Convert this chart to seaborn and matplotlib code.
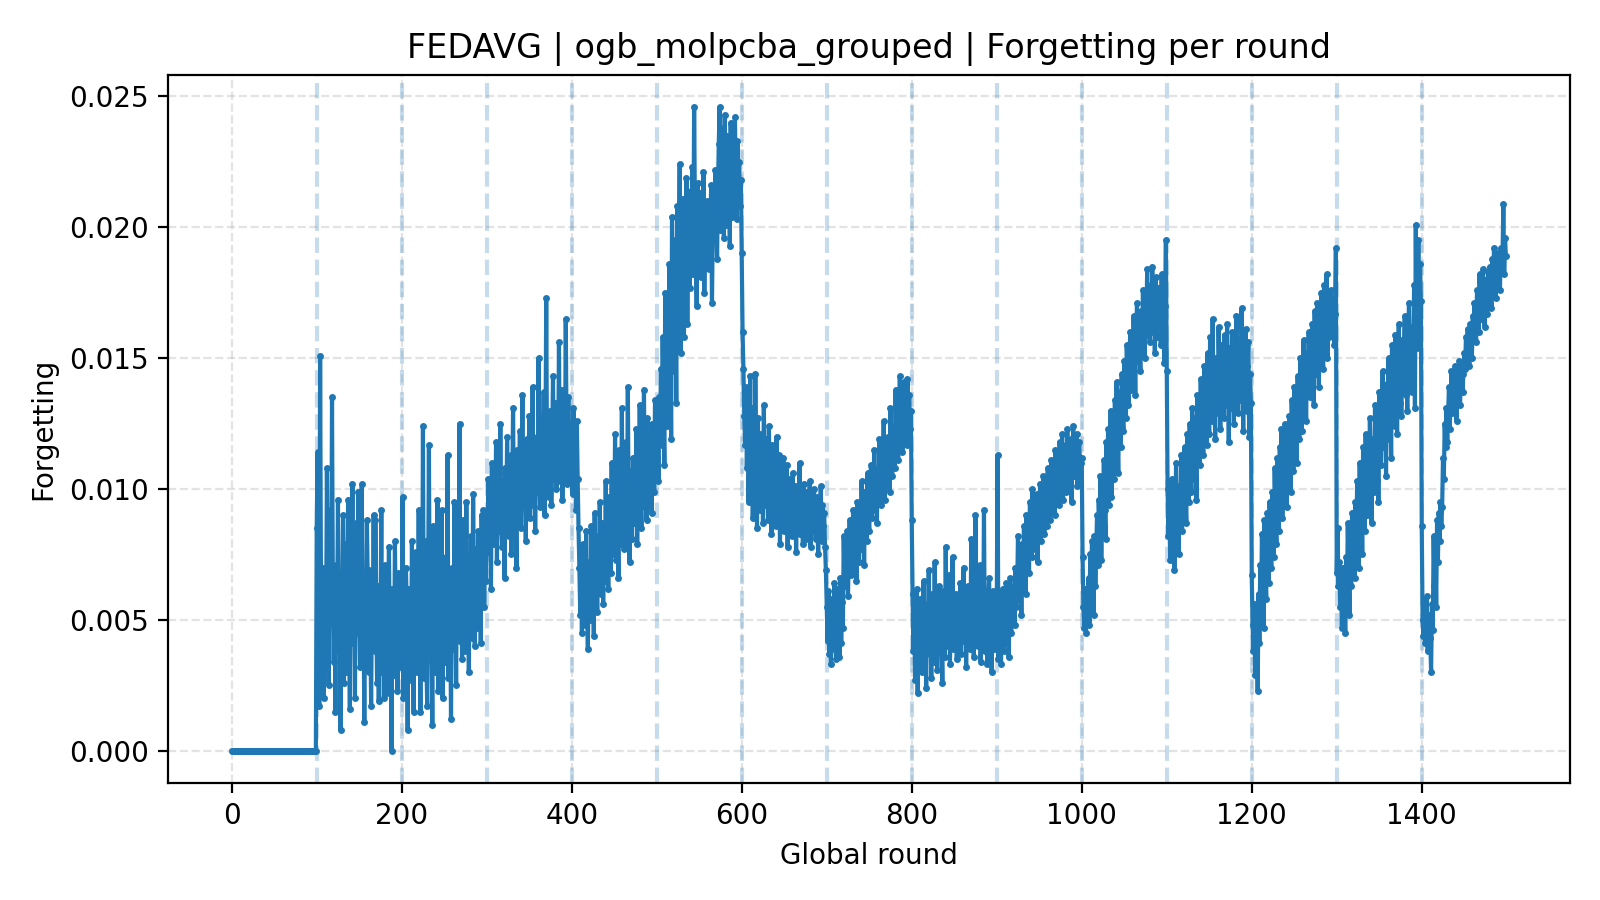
import numpy as np
import pandas as pd
import matplotlib
matplotlib.use("Agg")
import matplotlib.pyplot as plt
import seaborn as sns

# Forgetting values per global round, in units of 1e-4
task0 = [0] * 100
task1 = [85, 114, 52, 17, 151, 64, 38, 70, 20, 55,
         62, 45, 108, 58, 25, 66, 92, 50, 135, 61,
         34, 58, 15, 71, 49, 96, 38, 63, 8, 57,
         54, 90, 26, 65, 30, 79, 67, 96, 52, 16,
         77, 55, 102, 41, 68, 20, 87, 61, 45, 99,
         56, 32, 60, 102, 47, 55, 11, 63, 48, 88,
         66, 30, 69, 52, 17, 59, 43, 90, 38, 88,
         55, 26, 63, 19, 57, 47, 92, 30, 57, 20,
         71, 45, 66, 22, 53, 78, 34, 58, 0, 62,
         48, 29, 80, 50, 60, 23, 68, 45, 59, 32]
task2 = [48, 97, 20, 60, 32, 70, 53, 8, 62, 35,
         58, 27, 80, 51, 15, 63, 37, 76, 30, 55,
         92, 48, 15, 61, 40, 124, 28, 58, 80, 34,
         17, 57, 117, 39, 66, 52, 10, 86, 58, 30,
         78, 50, 96, 23, 62, 55, 37, 92, 20, 66,
         59, 34, 74, 51, 113, 28, 63, 56, 12, 70,
         60, 39, 95, 62, 25, 71, 44, 67, 125, 42,
         64, 35, 88, 59, 69, 38, 95, 58, 66, 30,
         75, 60, 82, 43, 98, 64, 40, 77, 69, 47,
         84, 63, 73, 41, 90, 67, 92, 55, 76, 65]
task3 = [92, 76, 104, 83, 95, 62, 110, 88, 79, 100,
         90, 118, 72, 95, 106, 84, 125, 91, 78, 103,
         97, 66, 108, 87, 120, 94, 82, 101, 113, 75,
         99, 131, 88, 107, 96, 70, 115, 100, 92, 122,
         85, 104, 136, 95, 112, 98, 80, 119, 105, 96,
         128, 89, 110, 101, 139, 94, 116, 84, 107, 120,
         99, 150, 106, 93, 124, 112, 102, 137, 90, 111,
         173, 108, 121, 97, 115, 130, 94, 118, 143, 104,
         113, 133, 100, 125, 109, 156, 103, 120, 138, 96,
         117, 128, 106, 165, 119, 102, 135, 111, 125, 108]
task4 = [123, 98, 131, 107, 115, 92, 126, 104, 85, 70,
         52, 68, 45, 79, 57, 63, 48, 84, 55, 39,
         72, 61, 50, 86, 58, 67, 44, 91, 63, 76,
         53, 82, 69, 95, 60, 74, 87, 56, 78, 65,
         103, 71, 89, 62, 97, 80, 68, 110, 75, 92,
         84, 121, 73, 99, 88, 66, 115, 93, 79, 131,
         86, 104, 77, 96, 118, 83, 139, 91, 72, 107,
         98, 81, 112, 87, 101, 94, 123, 79, 109, 90,
         132, 97, 85, 116, 102, 138, 93, 110, 88, 127,
         104, 96, 119, 108, 91, 125, 113, 99, 134, 117]
task5 = [112, 128, 103, 135, 121, 146, 117, 158, 130, 109,
         175, 142, 124, 163, 137, 186, 150, 119, 204, 161,
         145, 195, 172, 133, 208, 166, 181, 224, 152, 190,
         173, 211, 158, 199, 184, 219, 163, 206, 190, 177,
         214, 197, 223, 182, 246, 205, 193, 170, 217, 201,
         188, 213, 181, 206, 196, 221, 175, 203, 189, 210,
         193, 184, 207, 198, 216, 171, 201, 212, 195, 222,
         205, 188, 214, 232, 246, 199, 238, 210, 224, 196,
         243, 215, 201, 235, 207, 228, 193, 240, 219, 204,
         227, 211, 242, 220, 203, 233, 215, 225, 208, 218]
task6 = [190, 160, 146, 128, 117, 139, 108, 124, 95, 113,
         143, 102, 131, 89, 118, 97, 144, 110, 85, 127,
         104, 92, 121, 99, 115, 87, 132, 106, 94, 119,
         101, 88, 124, 96, 111, 83, 117, 102, 93, 108,
         86, 120, 98, 90, 113, 79, 105, 95, 89, 112,
         84, 100, 92, 109, 78, 97, 87, 104, 91, 82,
         106, 94, 88, 101, 76, 98, 85, 93, 110, 83,
         96, 89, 79, 102, 87, 94, 81, 99, 90, 85,
         103, 78, 95, 88, 84, 100, 92, 81, 97, 86,
         75, 93, 88, 101, 80, 94, 86, 91, 78, 69]
task7 = [55, 42, 61, 37, 50, 33, 58, 45, 39, 64,
         48, 35, 62, 44, 52, 36, 66, 41, 57, 47,
         82, 63, 78, 70, 84, 59, 76, 88, 67, 81,
         74, 92, 69, 86, 79, 65, 95, 83, 72, 90,
         77, 103, 85, 94, 71, 99, 88, 80, 106, 91,
         84, 97, 109, 89, 102, 95, 115, 92, 100, 87,
         108, 98, 119, 104, 94, 111, 101, 126, 96, 107,
         115, 103, 120, 110, 99, 131, 113, 105, 124, 118,
         108, 138, 116, 127, 111, 122, 143, 119, 129, 114,
         125, 141, 120, 134, 117, 142, 128, 136, 123, 130]
task8 = [88, 60, 38, 50, 27, 44, 62, 22, 49, 35,
         58, 41, 30, 53, 65, 39, 47, 24, 56, 43,
         69, 37, 51, 28, 60, 46, 34, 72, 42, 55,
         31, 49, 63, 38, 57, 44, 26, 61, 50, 36,
         78, 45, 53, 40, 67, 33, 58, 47, 74, 39,
         52, 43, 60, 35, 49, 56, 41, 64, 37, 54,
         46, 70, 42, 58, 32, 51, 63, 44, 55, 39,
         81, 48, 60, 36, 53, 90, 45, 67, 40, 57,
         71, 34, 49, 62, 43, 92, 38, 56, 47, 33,
         58, 66, 41, 52, 30, 48, 61, 39, 55, 44]
task9 = [52, 113, 35, 58, 44, 33, 49, 62, 38, 55,
         47, 64, 41, 59, 36, 53, 66, 45, 57, 51,
         63, 48, 70, 55, 61, 82, 58, 67, 74, 52,
         79, 65, 86, 71, 60, 90, 76, 83, 68, 95,
         88, 74, 100, 81, 93, 77, 85, 98, 72, 91,
         87, 102, 80, 94, 89, 105, 83, 97, 92, 86,
         108, 95, 101, 88, 111, 99, 93, 106, 90, 115,
         103, 97, 110, 94, 118, 100, 107, 121, 96, 112,
         104, 117, 99, 123, 108, 114, 102, 119, 95, 111,
         124, 105, 116, 109, 121, 101, 113, 118, 106, 110]
task10 = [112, 74, 55, 47, 62, 45, 58, 50, 66, 48,
          75, 56, 80, 69, 52, 82, 63, 77, 90, 71,
          96, 84, 105, 73, 99, 88, 111, 92, 81, 118,
          101, 123, 94, 108, 130, 97, 115, 126, 104, 134,
          112, 141, 120, 106, 137, 125, 116, 144, 131, 122,
          149, 135, 127, 155, 140, 132, 147, 160, 138, 151,
          143, 166, 152, 136, 158, 171, 149, 162, 154, 145,
          168, 157, 176, 161, 150, 172, 163, 184, 159, 169,
          156, 178, 165, 185, 160, 174, 152, 181, 167, 158,
          177, 164, 171, 155, 182, 166, 173, 148, 170, 195]
task11 = [145, 100, 82, 95, 73, 88, 104, 78, 92, 69,
          86, 110, 81, 97, 75, 101, 89, 113, 84, 106,
          93, 116, 98, 87, 121, 103, 95, 125, 108, 99,
          131, 112, 104, 127, 118, 96, 136, 115, 122, 109,
          142, 119, 128, 113, 147, 124, 135, 117, 152, 130,
          121, 158, 137, 126, 165, 133, 141, 119, 150, 138,
          129, 162, 144, 123, 155, 136, 148, 127, 159, 140,
          132, 163, 146, 118, 154, 139, 131, 160, 143, 125,
          151, 137, 166, 145, 129, 157, 141, 134, 169, 148,
          122, 153, 139, 161, 130, 147, 156, 120, 144, 133]
task12 = [67, 48, 38, 56, 29, 52, 44, 23, 60, 41,
          71, 55, 83, 62, 47, 88, 69, 58, 91, 76,
          64, 95, 81, 70, 99, 86, 74, 108, 90, 79,
          112, 94, 84, 116, 100, 123, 89, 105, 97, 125,
          108, 93, 118, 102, 128, 113, 99, 134, 120, 107,
          139, 116, 125, 110, 143, 129, 119, 150, 133, 122,
          145, 157, 131, 140, 126, 152, 138, 160, 135, 147,
          141, 163, 149, 132, 168, 153, 144, 171, 158, 139,
          166, 151, 175, 160, 146, 178, 162, 155, 182, 150,
          170, 158, 165, 176, 160, 169, 173, 155, 167, 192]
task13 = [68, 85, 63, 72, 55, 66, 47, 70, 58, 64,
          45, 74, 60, 87, 68, 52, 79, 63, 91, 71,
          84, 66, 95, 77, 103, 82, 70, 110, 88, 98,
          75, 116, 93, 84, 121, 101, 90, 108, 96, 127,
          105, 87, 119, 111, 99, 132, 114, 103, 124, 95,
          137, 118, 109, 129, 145, 116, 122, 134, 105, 140,
          127, 150, 119, 136, 112, 155, 131, 143, 124, 159,
          138, 121, 148, 163, 133, 144, 128, 157, 140, 151,
          166, 136, 147, 130, 158, 171, 142, 153, 137, 162,
          149, 178, 131, 201, 154, 167, 195, 160, 186, 172]
task14 = [86, 50, 44, 57, 41, 48, 59, 38, 47, 52,
          43, 30, 56, 46, 82, 63, 78, 55, 88, 72,
          91, 80, 95, 86, 93, 112, 104, 125, 116, 131,
          118, 128, 139, 123, 135, 145, 129, 142, 133, 147,
          138, 126, 143, 136, 149, 132, 141, 148, 137, 144,
          152, 146, 158, 149, 161, 154, 147, 163, 157, 150,
          166, 159, 171, 163, 156, 176, 168, 160, 182, 172,
          165, 178, 184, 170, 162, 180, 175, 167, 183, 174,
          185, 177, 169, 188, 179, 192, 181, 173, 186, 178,
          190, 183, 176, 192, 185, 188, 209, 182, 196, 189]

task_boundaries = [100, 200, 300, 400, 500, 600, 700, 800, 900, 1000,
                   1100, 1200, 1300, 1400]

segments = [task0, task1, task2, task3, task4, task5, task6, task7,
            task8, task9, task10, task11, task12, task13, task14]
values = np.concatenate([np.array(s, dtype=float) for s in segments]) * 1e-4
rounds = np.arange(len(values))
df = pd.DataFrame({"Global round": rounds, "Forgetting": values})

plt.rcParams["font.family"] = ["DejaVu Sans"]
fig, ax = plt.subplots(figsize=(8, 4.5), dpi=200)
fig.subplots_adjust(left=0.105, right=0.981, top=0.917, bottom=0.13)

ax.grid(True, linestyle="--", color="#b0b0b0", alpha=0.35, linewidth=0.8)
ax.set_axisbelow(True)

for b in task_boundaries:
    ax.axvline(b, color="#1f77b4", linestyle="--", alpha=0.25, linewidth=1.5, zorder=1)

sns.lineplot(data=df, x="Global round", y="Forgetting", ax=ax,
             color="#1f77b4", linewidth=1.5, marker="o", markersize=2.5,
             markeredgewidth=0, zorder=3)

ax.set_title("FEDAVG | ogb_molpcba_grouped | Forgetting per round", fontsize=12)
ax.set_xlabel("Global round")
ax.set_ylabel("Forgetting")
ax.set_xticks([0, 200, 400, 600, 800, 1000, 1200, 1400])
ax.set_yticks([0.0, 0.005, 0.010, 0.015, 0.020, 0.025])
ax.yaxis.set_major_formatter(matplotlib.ticker.FormatStrFormatter("%.3f"))

fig.savefig("out.png", dpi=200)
